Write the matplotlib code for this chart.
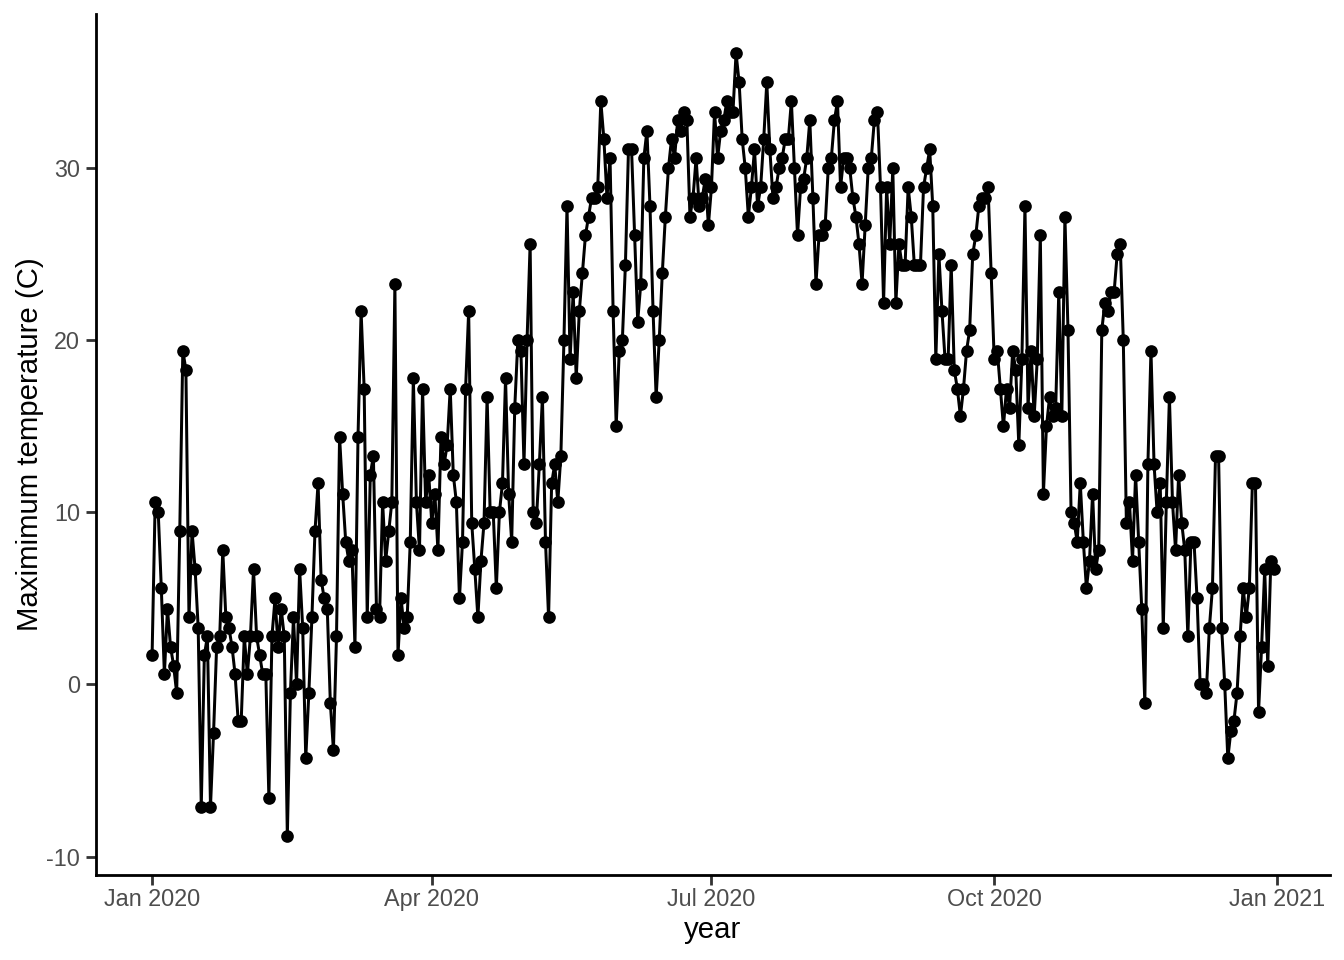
import matplotlib
matplotlib.use("Agg")
import matplotlib.pyplot as plt
import matplotlib.dates as mdates
import pandas as pd
import numpy as np

start_date = "2020-01-01"
x_label = "year"
y_label = "Maximimum temperature (C)"
y_ticks = [-10, 0, 10, 20, 30]
x_tick_dates = ["2020-01-01", "2020-04-01", "2020-07-01", "2020-10-01", "2021-01-01"]

jan = [1.7, 10.6, 10.0, 5.6, 0.6, 4.4, 2.2, 1.1, -0.5, 8.9, 19.4, 18.3, 3.9, 8.9, 6.7, 3.3,
       -7.1, 1.7, 2.8, -7.1, -2.8, 2.2, 2.8, 7.8, 3.9, 3.3, 2.2, 0.6, -2.1, -2.1, 2.8]
feb = [0.6, 2.8, 6.7, 2.8, 1.7, 0.6, 0.6, -6.6, 2.8, 5.0, 2.2, 4.4, 2.8, -8.8, -0.5, 3.9,
       0.0, 6.7, 3.3, -4.3, -0.5, 3.9, 8.9, 11.7, 6.1, 5.0, 4.4, -1.1, -3.8, 2.8]
mar = [14.4, 11.1, 8.3, 7.2, 7.8, 2.2, 14.4, 21.7, 17.2, 3.9, 12.2, 13.3, 4.4, 3.9, 10.6, 7.2,
       8.9, 10.6, 23.3, 1.7, 5.0, 3.3, 3.9, 8.3, 17.8, 10.6, 7.8, 17.2, 10.6, 12.2, 9.4]
apr = [11.1, 7.8, 14.4, 12.8, 13.9, 17.2, 12.2, 10.6, 5.0, 8.3, 17.2, 21.7, 9.4, 6.7, 3.9, 7.2,
       9.4, 16.7, 10.0, 10.0, 5.6, 10.0, 11.7, 17.8, 11.1]
may = [8.3, 16.1, 20.0, 19.4, 12.8, 20.0, 25.6, 10.0, 9.4, 12.8, 16.7, 8.3, 3.9, 11.7, 12.8, 10.6,
       13.3, 20.0, 27.8, 18.9, 22.8, 17.8, 21.7, 23.9, 26.1, 27.2, 28.3, 28.3, 28.9, 33.9, 31.7,
       28.3, 30.6, 21.7]
jun = [15.0, 19.4, 20.0, 24.4, 31.1, 31.1, 26.1, 21.1, 23.3, 30.6, 32.2, 27.8, 21.7, 16.7, 20.0,
       23.9, 27.2, 30.0, 31.7, 30.6, 32.8, 32.2, 33.3, 32.8, 27.2, 28.3, 30.6, 27.8, 28.3, 29.4,
       26.7, 28.9, 33.3]
jul = [30.6, 32.2, 32.8, 33.9, 33.3, 33.3, 36.7, 35.0, 31.7, 30.0, 27.2, 28.9, 31.1, 27.8, 28.9,
       31.7, 35.0, 31.1, 28.3, 28.9, 30.0, 30.6, 31.7, 31.7, 33.9, 30.0, 26.1, 28.9, 29.4, 30.6,
       32.8, 28.3]
aug_sep = [23.3, 26.1, 26.1, 26.7, 30.0, 30.6, 32.8, 33.9, 28.9, 30.6, 30.6, 30.0, 28.3, 27.2,
           25.6, 23.3, 26.7, 30.0, 30.6, 32.8, 33.3, 28.9, 22.2, 28.9, 25.6, 30.0, 22.2, 25.6,
           24.4, 24.4, 28.9, 27.2, 24.4, 24.4, 24.4, 28.9, 30.0, 31.1, 27.8, 18.9, 25.0, 21.7,
           18.9, 18.9, 24.4, 18.3, 17.2, 15.6, 17.2, 19.4, 20.6, 25.0, 26.1, 27.8, 28.3, 28.3,
           28.9, 23.9]
oct_dec = [18.9, 19.4, 17.2, 15.0, 17.2, 16.1, 19.4, 18.3, 13.9, 18.9, 27.8, 16.1, 19.4, 15.6,
           18.9, 26.1, 11.1, 15.0, 16.7, 15.6, 16.1, 22.8, 15.6, 27.2, 20.6, 10.0, 9.4, 8.3, 11.7,
           8.3, 5.6, 7.2, 11.1, 6.7, 7.8, 20.6, 22.2, 21.7, 22.8, 22.8, 25.0, 25.6, 20.0, 9.4,
           10.6, 7.2, 12.2, 8.3, 4.4, -1.1, 12.8, 19.4, 12.8, 10.0, 11.7, 3.3, 10.6, 16.7, 10.6,
           7.8, 12.2, 9.4, 7.8, 2.8, 8.3, 8.3, 5.0, 0.0, 0.0, -0.5, 3.3, 5.6, 13.3, 13.3, 3.3, 0.0,
           -4.3, -2.7, -2.1, -0.5, 2.8, 5.6, 3.9, 5.6, 11.7, 11.7, -1.6, 2.2, 6.7, 1.1, 7.2, 6.7]

temps = jan + feb + mar + apr + may + jun + jul + aug_sep + oct_dec
dates = pd.date_range(start_date, periods=len(temps), freq="D")

plt.rcParams["font.family"] = ["Liberation Sans", "DejaVu Sans"]
plt.rcParams["axes.unicode_minus"] = False

fig = plt.figure(figsize=(1344 / 144, 960 / 144), dpi=144)
ax = fig.add_axes([96 / 1344, 1 - 875 / 960, (1330 - 96) / 1344, (875 - 14) / 960])

ax.plot(dates, temps, color="black", linewidth=1.5, zorder=2)
ax.scatter(dates, temps, color="black", s=40, zorder=3, linewidths=0)

d0 = pd.Timestamp(start_date)
d1 = pd.Timestamp("2020-12-31")
span = (d1 - d0).days
ax.set_xlim(mdates.date2num(d0) - 0.05 * span, mdates.date2num(d1) + 0.05 * span)
ymin, ymax = min(temps), max(temps)
r = ymax - ymin
ax.set_ylim(ymin - 0.05 * r, ymax + 0.05 * r)

ax.set_xticks([mdates.date2num(pd.Timestamp(d)) for d in x_tick_dates])
ax.xaxis.set_major_formatter(mdates.DateFormatter("%b %Y"))
ax.set_yticks(y_ticks)

for s in ["top", "right"]:
    ax.spines[s].set_visible(False)
for s in ["left", "bottom"]:
    ax.spines[s].set_linewidth(1.4)
    ax.spines[s].set_color("black")

ax.tick_params(axis="both", direction="out", length=5, width=1.4, color="#333333",
               labelsize=11.7, labelcolor="#4D4D4D")
ax.tick_params(axis="x", pad=1.5)
ax.tick_params(axis="y", pad=3)
ax.set_xlabel(x_label, fontsize=14.7, color="black", labelpad=2.5)
ax.set_ylabel(y_label, fontsize=14.7, color="black", labelpad=1)

fig.savefig("out.png", dpi=144, facecolor="white")
